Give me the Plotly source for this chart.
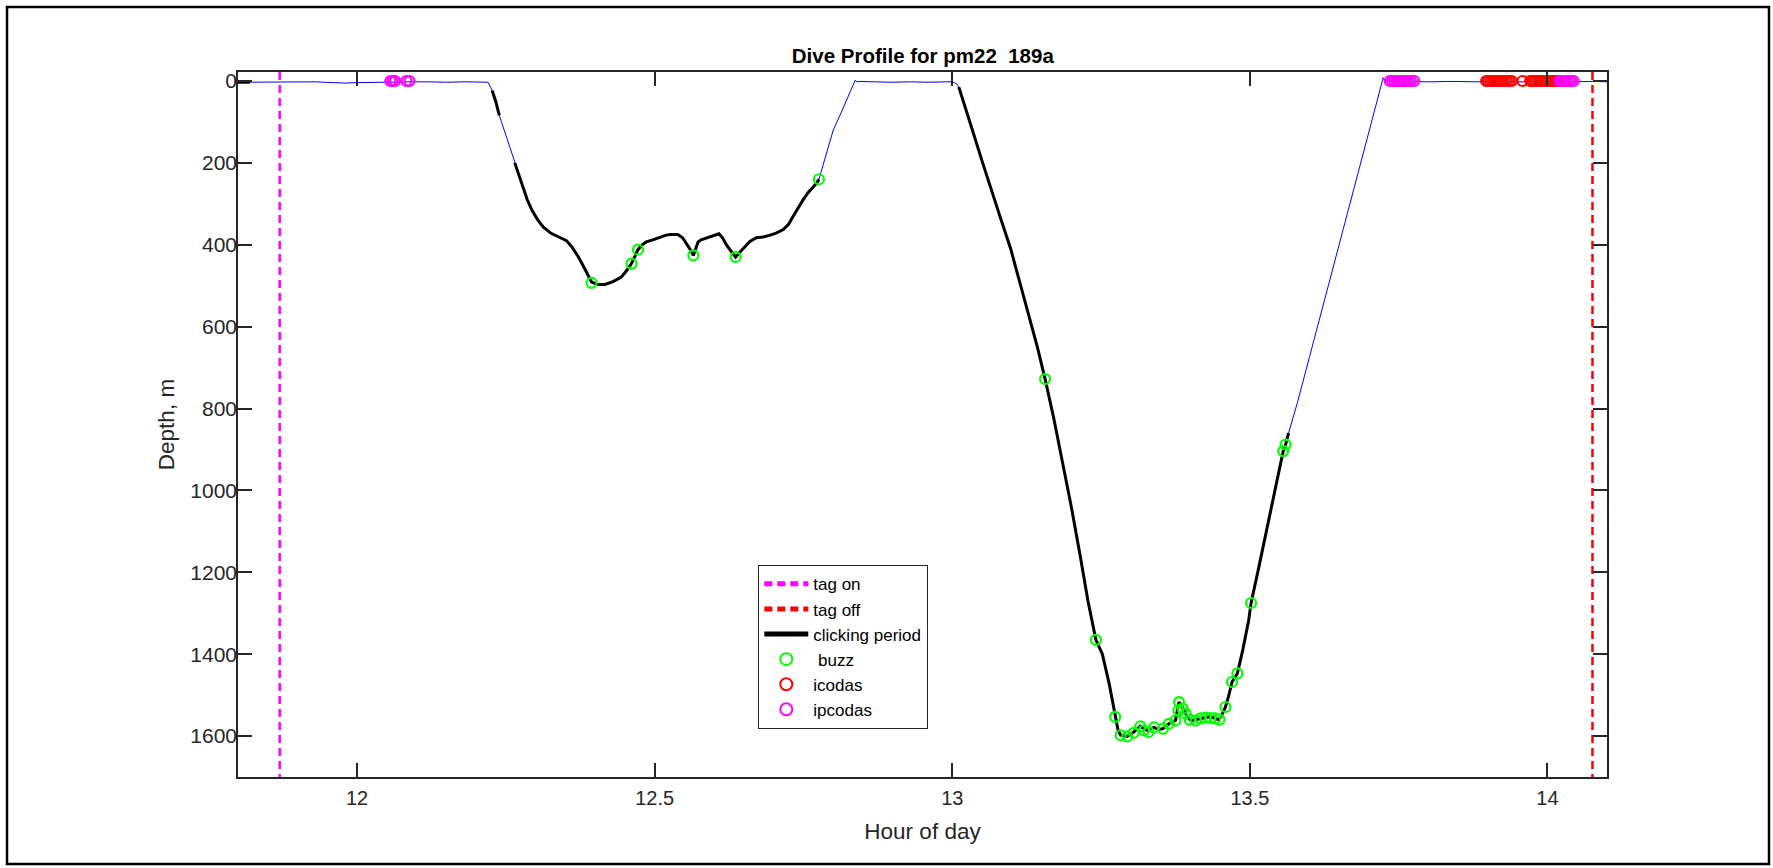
import plotly.graph_objects as go

# ---------------- data ----------------
hour = [11.80, 11.82, 11.83, 11.86, 11.90, 11.93, 11.96, 11.98, 12.00, 12.03, 12.06, 12.09, 12.12, 12.15, 12.18, 12.21, 12.22,
        12.227, 12.233, 12.239, 12.252, 12.265, 12.272, 12.278, 12.286, 12.294, 12.303, 12.313, 12.326, 12.339, 12.352,
        12.361, 12.372, 12.383, 12.394, 12.405, 12.4165, 12.430, 12.444, 12.453, 12.461, 12.467, 12.472, 12.479, 12.486,
        12.497, 12.509, 12.518, 12.526, 12.539, 12.547, 12.554, 12.560, 12.565, 12.569, 12.573, 12.578, 12.584, 12.591,
        12.598, 12.608, 12.614, 12.621, 12.629, 12.636, 12.643, 12.651, 12.660, 12.671, 12.682, 12.693, 12.705, 12.716,
        12.725, 12.732, 12.740, 12.749, 12.758, 12.766, 12.772, 12.776,
        12.788, 12.800, 12.8125, 12.825, 12.837, 12.840, 12.845,
        12.87, 12.90, 12.93, 12.96, 12.99, 12.999, 13.004, 13.008,
        13.011, 13.020, 13.035, 13.050, 13.065, 13.080, 13.098, 13.115, 13.130, 13.143, 13.156, 13.170, 13.185, 13.200,
        13.215, 13.228, 13.2413, 13.252, 13.2636, 13.2737, 13.2786, 13.283, 13.294, 13.305, 13.316, 13.322, 13.328,
        13.339, 13.347, 13.354, 13.364, 13.375, 13.378, 13.381, 13.385, 13.389, 13.395, 13.401, 13.408, 13.415, 13.424,
        13.432, 13.440, 13.448, 13.453, 13.459, 13.465, 13.470, 13.479, 13.488, 13.498, 13.502, 13.515, 13.530, 13.545,
        13.556, 13.560, 13.565,
        13.580, 13.600, 13.620, 13.641, 13.660, 13.680, 13.700, 13.715, 13.724, 13.728, 13.732,
        13.76, 13.80, 13.84, 13.88, 13.92, 13.96, 14.00, 14.04, 14.08, 14.10]
depth = [3, 3, 2, 2, 3, 2, 4, 5, 4, 3, 2, 2, 2, 3, 2, 2, 3,
         23, 50, 84, 142, 200, 230, 259, 290, 316, 338, 357, 372, 381, 390,
         405, 430, 460, 491, 497, 497, 490, 479, 463, 446, 428, 412, 400, 393,
         388, 381, 377, 375, 375, 383, 397, 412, 426, 410, 393, 388, 385, 383,
         379, 373, 383, 401, 417, 430, 418, 405, 392, 383, 381, 377, 371, 363,
         350, 332, 312, 291, 272, 259, 250, 240,
         180, 120, 80, 40, -2, 2, 1,
         2, 3, 2, 3, 2, 2, 4, 8,
         15, 55, 125, 195, 260, 330, 409, 500, 580, 650, 728, 820, 930, 1040,
         1160, 1270, 1365, 1399, 1472, 1553, 1586, 1598, 1601, 1590, 1576, 1582, 1586,
         1579, 1584, 1582, 1570, 1562, 1540, 1517, 1525, 1537, 1553, 1562, 1560, 1557, 1555,
         1553, 1556, 1560, 1548, 1529, 1498, 1468, 1447, 1390, 1317, 1275, 1188, 1088, 980,
         904, 888, 860,
         785, 675, 565, 445, 342, 236, 127, 45, -8, 2, 0,
         1, 2, 1, 2, 1, 2, 1, 2, 1, 2]

# clicking periods (start, end) in hours
click_start = [11.80, 12.227, 12.265, 13.011]
click_end = [11.82, 12.239, 12.776, 13.565]

buzz_hour = [12.394, 12.461, 12.472, 12.565, 12.636, 12.776,
             13.156, 13.2413, 13.2737, 13.283, 13.294, 13.305, 13.316, 13.322, 13.330, 13.339, 13.354,
             13.364, 13.375, 13.380, 13.381, 13.387, 13.392, 13.399, 13.409, 13.417, 13.426, 13.434,
             13.442, 13.449, 13.459, 13.470, 13.479, 13.502, 13.556, 13.560]
buzz_depth = [493, 446, 412, 426, 430, 240,
              728, 1365, 1553, 1598, 1601, 1592, 1576, 1586, 1590, 1579, 1582,
              1570, 1562, 1537, 1517, 1533, 1545, 1560, 1562, 1557, 1555, 1556,
              1557, 1560, 1529, 1468, 1447, 1275, 904, 888]

icodas_hour = [13.897, 13.900, 13.904, 13.908, 13.912, 13.916, 13.920, 13.924, 13.928, 13.932, 13.936, 13.940,
               13.958, 13.971, 13.975, 13.979, 13.983, 13.987, 13.991, 13.995, 13.999, 14.003, 14.007, 14.011,
               14.015]
icodas_depth = [0] * len(icodas_hour)

ipcodas_hour = [12.056, 12.060, 12.064, 12.083, 12.088,
                13.735, 13.739, 13.743, 13.747, 13.751, 13.755, 13.759, 13.763, 13.767, 13.771, 13.776,
                14.020, 14.024, 14.028, 14.032, 14.036, 14.040, 14.044]
ipcodas_depth = [0] * len(ipcodas_hour)

tag_on = 11.87
tag_off = 14.0756

x_range = [11.8, 14.1]
y_range = [1700, -22]
x_ticks = [12, 12.5, 13, 13.5, 14]
x_ticktext = ["12", "12.5", "13", "13.5", "14"]
y_ticks = [0, 200, 400, 600, 800, 1000, 1200, 1400, 1600]

# ---------------- figure ----------------
W, H = 1773, 868
L, R, T, B = 238, 166, 72, 91
pw, ph = W - L - R, H - T - B

def in_click(h):
    return any(s - 1e-9 <= h <= e + 1e-9 for s, e in zip(click_start, click_end))

click_depth = [d if in_click(h) else None for h, d in zip(hour, depth)]

AX = "#262626"
FONT = "Liberation Sans, Arial, sans-serif"

fig = go.Figure()
fig.add_trace(go.Scatter(x=hour, y=depth, mode="lines", line=dict(color="#0000FF", width=1),
                         showlegend=False, hoverinfo="skip"))
fig.add_trace(go.Scatter(x=[tag_on, tag_on], y=[y_range[1], y_range[0]], mode="lines", name="tag on",
                         line=dict(color="#FF00FF", width=2.5, dash="8px,5px")))
fig.add_trace(go.Scatter(x=[tag_off, tag_off], y=[y_range[1], y_range[0]], mode="lines", name="tag off",
                         line=dict(color="#FF0000", width=2.5, dash="8px,5px")))
fig.add_trace(go.Scatter(x=hour, y=click_depth, mode="lines", name="clicking period",
                         line=dict(color="black", width=3), connectgaps=False))
fig.add_trace(go.Scatter(x=buzz_hour, y=buzz_depth, mode="markers", name=" buzz",
                         marker=dict(symbol="circle-open", size=10, color="#00FF00", line=dict(width=2.2))))
fig.add_trace(go.Scatter(x=icodas_hour, y=icodas_depth, mode="markers", name="icodas",
                         marker=dict(symbol="circle-open", size=10, color="#FF0000", line=dict(width=2.2))))
fig.add_trace(go.Scatter(x=ipcodas_hour, y=ipcodas_depth, mode="markers", name="ipcodas",
                         marker=dict(symbol="circle-open", size=10, color="#FF00FF", line=dict(width=2.2))))

def px_x(p):
    return (p - L) / pw

def px_y(p):
    return (H - B - p) / ph

fig.add_shape(type="rect", xref="paper", yref="paper",
              x0=px_x(7), x1=px_x(1769), y0=px_y(864), y1=px_y(7),
              line=dict(color="black", width=2.5), layer="below")

fig.update_layout(
    width=W, height=H, autosize=False,
    margin=dict(l=L, r=R, t=T, b=B, pad=0),
    paper_bgcolor="white", plot_bgcolor="white",
    font=dict(family=FONT, color=AX, size=20),
    title=dict(text="Dive Profile for pm22\u00a0 189a", x=px_x(922.8), xref="paper", xanchor="center",
               y=1 - 56 / H, yref="container", yanchor="middle",
               font=dict(family=FONT, size=20.5, color="black", weight="bold")),
    showlegend=True,
    legend=dict(x=px_x(758), y=px_y(565), xanchor="left", yanchor="top",
                bgcolor="white", bordercolor=AX, borderwidth=1.3,
                font=dict(family=FONT, size=17, color="black"),
                itemsizing="constant", itemwidth=44, tracegroupgap=0),
)
fig.update_xaxes(range=x_range, tickvals=x_ticks, ticktext=x_ticktext, showgrid=False, zeroline=False,
                 showline=True, linecolor=AX, linewidth=1.5, mirror="ticks", ticks="inside", ticklen=14,
                 tickwidth=1.5, tickcolor=AX, ticklabelstandoff=2, tickfont=dict(size=20),
                 title=dict(text="Hour of day", font=dict(size=22.5, color=AX), standoff=15))
fig.update_yaxes(range=y_range, tickvals=y_ticks, showgrid=False, zeroline=False,
                 showline=True, linecolor=AX, linewidth=1.5, mirror="ticks", ticks="inside", ticklen=14,
                 tickwidth=1.5, tickcolor=AX, ticklabelstandoff=-5, tickfont=dict(size=21),
                 title=dict(text="Depth, m", font=dict(size=22.5, color=AX), standoff=9))

fig.write_html("out.html", config={"displayModeBar": False},
               post_script="document.body.style.margin='0px';document.body.style.overflow='hidden';")
